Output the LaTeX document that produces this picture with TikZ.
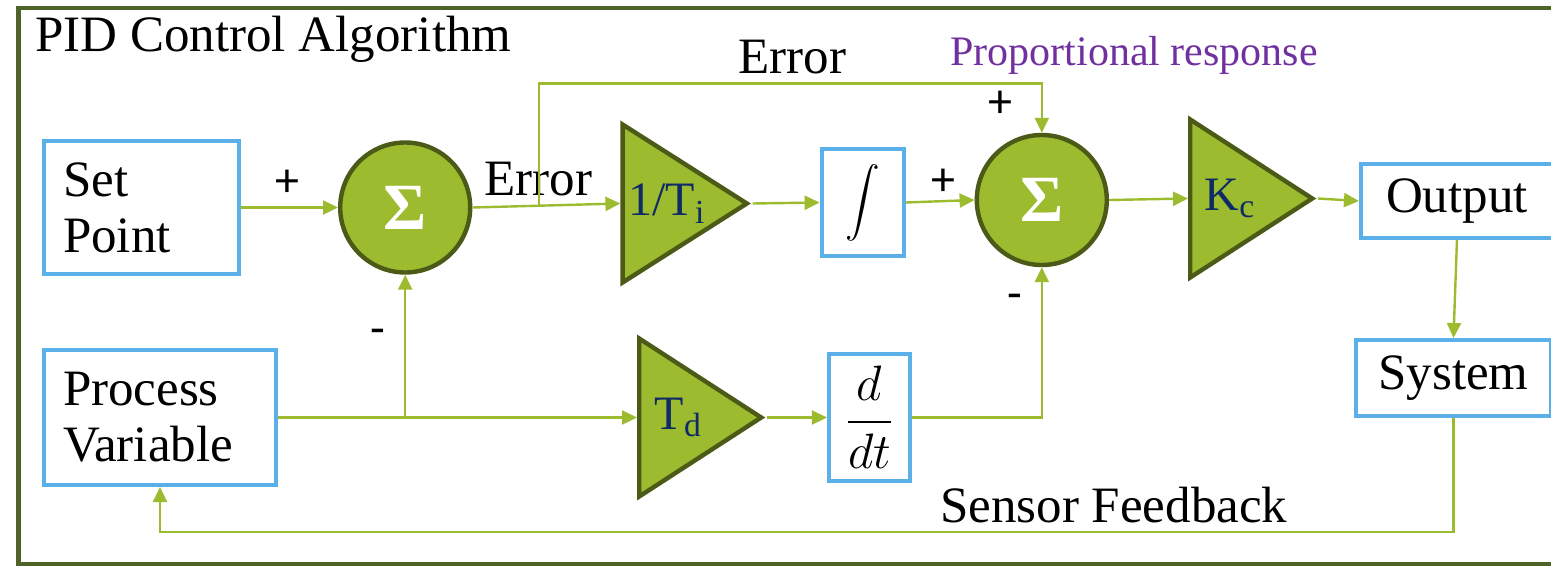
\documentclass[tikz,border=0pt]{standalone}
\usepackage{amsmath}
\usepackage{fontspec}
\setmainfont{Liberation Serif}
\newfontfamily\signfont{Carlito}
\usetikzlibrary{positioning,shapes.geometric,arrows.meta,calc}

\definecolor{framegreen}{HTML}{4F6228}
\definecolor{leafgreen}{HTML}{9CBB2F}
\definecolor{darkolive}{HTML}{4B5A16}
\definecolor{skyblue}{HTML}{5BB0EA}
\definecolor{gainblue}{HTML}{0F2B66}
\definecolor{respurple}{HTML}{7030A0}

\tikzset{
  block/.style={draw=skyblue, line width=2pt, fill=white, inner sep=0pt},
  textblock/.style={block, inner xsep=9.5pt, align=left},
  summer/.style={circle, draw=darkolive, line width=2.2pt, fill=leafgreen,
    minimum size=65pt, inner sep=0pt, text=white,
    font=\fontsize{33}{36}\selectfont\bfseries},
  gain/.style={isosceles triangle, isosceles triangle stretches, draw=darkolive,
    line width=2.2pt, fill=leafgreen, minimum width=79pt, minimum height=61pt,
    inner sep=0pt, text=gainblue, font=\fontsize{24}{28}\selectfont},
  sig/.style={draw=leafgreen, line width=1.2pt, ->},
  tag/.style={anchor=base west, inner sep=0pt},
  pm/.style={inner sep=0pt, font=\signfont\fontsize{24}{28}\selectfont},
}

\begin{document}
\begin{tikzpicture}[x=0.5pt, y=-0.5pt, font=\fontsize{25.5}{28}\selectfont,
    >={Triangle[length=7.5pt,width=7pt]}]
  \useasboundingbox (0,0) rectangle (1551,567);
  \draw[framegreen, line width=2.3pt] (1551,8) -- (18.5,8) -- (18.5,564) -- (1551,564);

  % Define nodes
  \node[textblock, text width=78.5pt, minimum height=66.5pt] (sp) at (141.5,207.5) {Set\\Point};
  \node[summer, right=48.5pt of sp] (s1) {Σ};
  \node[gain, right=74pt of s1, yshift=2pt] (ti) {1/T\textsubscript{i}};
  \node[block, minimum width=41pt, minimum height=53.5pt, right=33.5pt of ti.apex, yshift=0.5pt]
    (int) {\fontsize{19}{22}\selectfont$\displaystyle\int$};
  \node[summer, right=34.5pt of int, yshift=1.25pt] (s2) {Σ};
  \node[gain, right=39.5pt of s2, yshift=0.75pt] (kc) {K\textsubscript{c}};
  \node[block, minimum width=96pt, minimum height=37pt, right=20.5pt of kc.apex, yshift=-1.25pt] (out) {Output};
  \node[block, minimum width=97.5pt, minimum height=38pt, below=49pt of out, xshift=-1.75pt] (sys) {System};
  \node[textblock, text width=97pt, minimum height=67.5pt,
    below=36pt of sp.south west, anchor=north west] (pv) {Process\\Variable};
  \node[gain, right=179.5pt of pv] (td) {T\textsubscript{d}};
  \node[block, minimum width=40.5pt, minimum height=63.5pt, right=30pt of td.apex]
    (ddt) {$\dfrac{d}{dt}$};

  % Labels
  \node[tag] (title) at (35,52) {PID Control Algorithm};
  \node[tag] (err1) at (484,195) {Error};
  \node[tag] (err2) at (738,74) {Error};
  \node[tag, text=respurple, font=\fontsize{21}{24}\selectfont] (prop) at (950,66) {Proportional response};
  \node[tag] (fbk) at (940,522) {Sensor Feedback};
  \node[pm] (p1) at (287,183) {+};
  \node[pm] (p2) at (943,182) {+};
  \node[pm] (p3) at (1000,104) {+};
  \node[pm] (m1) at (378,337) {-};
  \node[pm] (m2) at (1015,302) {-};

  % Connect the nodes
  \coordinate (eb) at ($(s1.east)!0.45!(ti.west)$);
  \coordinate (etop) at ($(eb)+(0,-122)$);
  \coordinate (pb) at (s1 |- pv.east);
  \coordinate (fb) at ($(sys.south)+(0,114)$);
  \draw[sig] (sp) -- (s1);
  \draw[sig] (s1.east) -- (ti.west);
  \draw[sig] (eb) -- (etop) -| (s2.north);
  \draw[sig] (ti.apex) -- (int.west);
  \draw[sig] (int.east) -- (s2.west);
  \draw[sig] (s2.east) -- (kc.west);
  \draw[sig] (kc.apex) -- (out.west);
  \draw[sig] (out.south) -- (sys.north);
  \draw[sig] (pv.east) -- (td.west);
  \draw[sig] (pb) -- (s1.south);
  \draw[sig] (td.apex) -- (ddt.west);
  \draw[sig] (ddt.east) -| (s2.south);
  \draw[sig] (sys.south) -- (fb) -| (pv.south);

\end{tikzpicture}
\end{document}
